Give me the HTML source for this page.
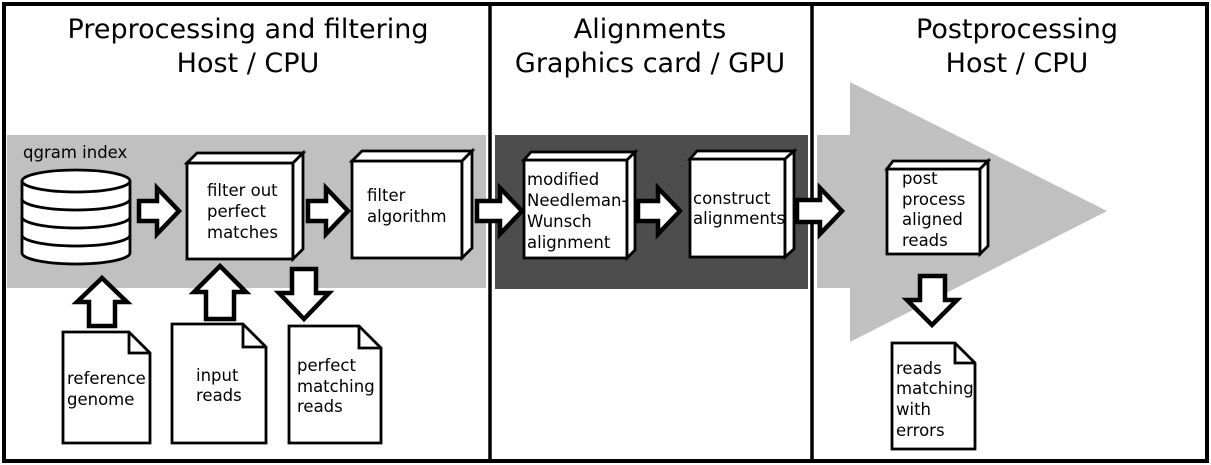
<!DOCTYPE html>
<html><head><style>body{margin:0;background:#fff}svg{display:block}text{font-family:"DejaVu Sans","Liberation Sans",sans-serif;fill:#000}</style></head><body>
<svg width="1211" height="465" viewBox="0 0 1211 465" xmlns="http://www.w3.org/2000/svg">
<rect x="0" y="0" width="1211" height="465" fill="#fff"/>
<rect x="7" y="135" width="479" height="153" fill="#c0c0c0"/>
<rect x="495" y="135" width="313" height="154" fill="#4d4d4d"/>
<polygon points="817,135 850,135 850,82 1107,211 850,342 850,288 817,288" fill="#c0c0c0"/>
<rect x="4" y="4" width="1203" height="457" fill="none" stroke="#000" stroke-width="4"/>
<line x1="490" y1="4" x2="490" y2="461" stroke="#000" stroke-width="3.5"/>
<line x1="812" y1="4" x2="812" y2="461" stroke="#000" stroke-width="3.5"/>
<g font-size="27" text-anchor="middle">
<text x="248" y="38">Preprocessing and filtering</text><text x="248" y="72">Host / CPU</text>
<text x="650" y="38">Alignments</text><text x="650" y="72">Graphics card / GPU</text>
<text x="1017" y="38">Postprocessing</text><text x="1017" y="72">Host / CPU</text>
</g>
<g stroke="#000" stroke-width="2.8" fill="#fff" stroke-linejoin="miter">
<path d="M22,181 L22,253 A54,11 0 0 0 130,253 L130,181"/>
<ellipse cx="76" cy="181" rx="54" ry="11"/>
<path d="M22,199 A54,11 0 0 0 130,199 M22,217 A54,11 0 0 0 130,217 M22,235 A54,11 0 0 0 130,235" fill="none"/>
<rect x="187" y="163" width="106" height="96"/><polygon points="187,163 197,153 303,153 293,163"/><polygon points="293,163 303,153 303,249 293,259"/>
<rect x="352" y="161" width="110" height="97"/><polygon points="352,161 362,151 472,151 462,161"/><polygon points="462,161 472,151 472,248 462,258"/>
<rect x="524" y="160" width="103" height="98"/><polygon points="524,160 531,152 635,152 627,160"/><polygon points="627,160 635,152 635,250 627,258"/>
<rect x="690" y="159" width="95" height="98"/><polygon points="690,159 697,151 794,151 785,159"/><polygon points="785,159 794,151 794,249 785,257"/>
<rect x="887" y="169" width="93" height="85"/><polygon points="887,169 893,161 988,161 980,169"/><polygon points="980,169 988,161 988,246 980,254"/>
<polygon points="63,332 129,332 150,353 150,443 63,443"/><polyline points="129,332 129,353 150,353" fill="none"/>
<polygon points="172,324 243,324 266,347 266,443 172,443"/><polyline points="243,324 243,347 266,347" fill="none"/>
<polygon points="289,326 359,326 381,348 381,443 289,443"/><polyline points="359,326 359,348 381,348" fill="none"/>
<polygon points="892,343 955,343 975,363 975,449 892,449"/><polyline points="955,343 955,363 975,363" fill="none"/>
</g>
<g stroke="#000" stroke-width="4.5" fill="#fff" stroke-linejoin="miter">
<polygon points="139,201 157,201 157,188 179,211 157,234 157,221 139,221"/>
<polygon points="308,201 326,201 326,188 348,211 326,234 326,221 308,221"/>
<polygon points="477,201 500,201 500,188 522,211 500,234 500,221 477,221"/>
<polygon points="638,201 658,201 658,188 680,211 658,234 658,221 638,221"/>
<polygon points="797,200 820,200 820,188 842,211 820,234 820,222 797,222"/>
<polygon points="89,326 89,302 77,302 102,278 127,302 115,302 115,326"/>
<polygon points="206,319 206,292 194,292 220,266 246,292 234,292 234,319"/>
<polygon points="292,269 316,269 316,293 329,293 304,319 279,293 292,293"/>
<polygon points="920,276 945,276 945,300 957,300 932,325 907,300 920,300"/>
</g>
<g font-size="16.5">
<text x="23" y="158">qgram index</text>
<text x="207" y="196">filter out</text><text x="207" y="217">perfect</text><text x="207" y="238">matches</text>
<text x="367" y="201">filter</text><text x="367" y="222">algorithm</text>
<text x="527" y="185">modified</text><text x="527" y="206">Needleman-</text><text x="527" y="227">Wunsch</text><text x="527" y="248">alignment</text>
<text x="693" y="204">construct</text><text x="693" y="224">alignments</text>
<text x="902" y="184">post</text><text x="902" y="205">process</text><text x="902" y="225">aligned</text><text x="902" y="246">reads</text>
<text x="67" y="384">reference</text><text x="67" y="405">genome</text>
<text x="196" y="381">input</text><text x="196" y="401">reads</text>
<text x="297" y="371">perfect</text><text x="297" y="392">matching</text><text x="297" y="412">reads</text>
<text x="896" y="374">reads</text><text x="896" y="394">matching</text><text x="896" y="415">with</text><text x="896" y="436">errors</text>
</g>
</svg>
</body></html>
